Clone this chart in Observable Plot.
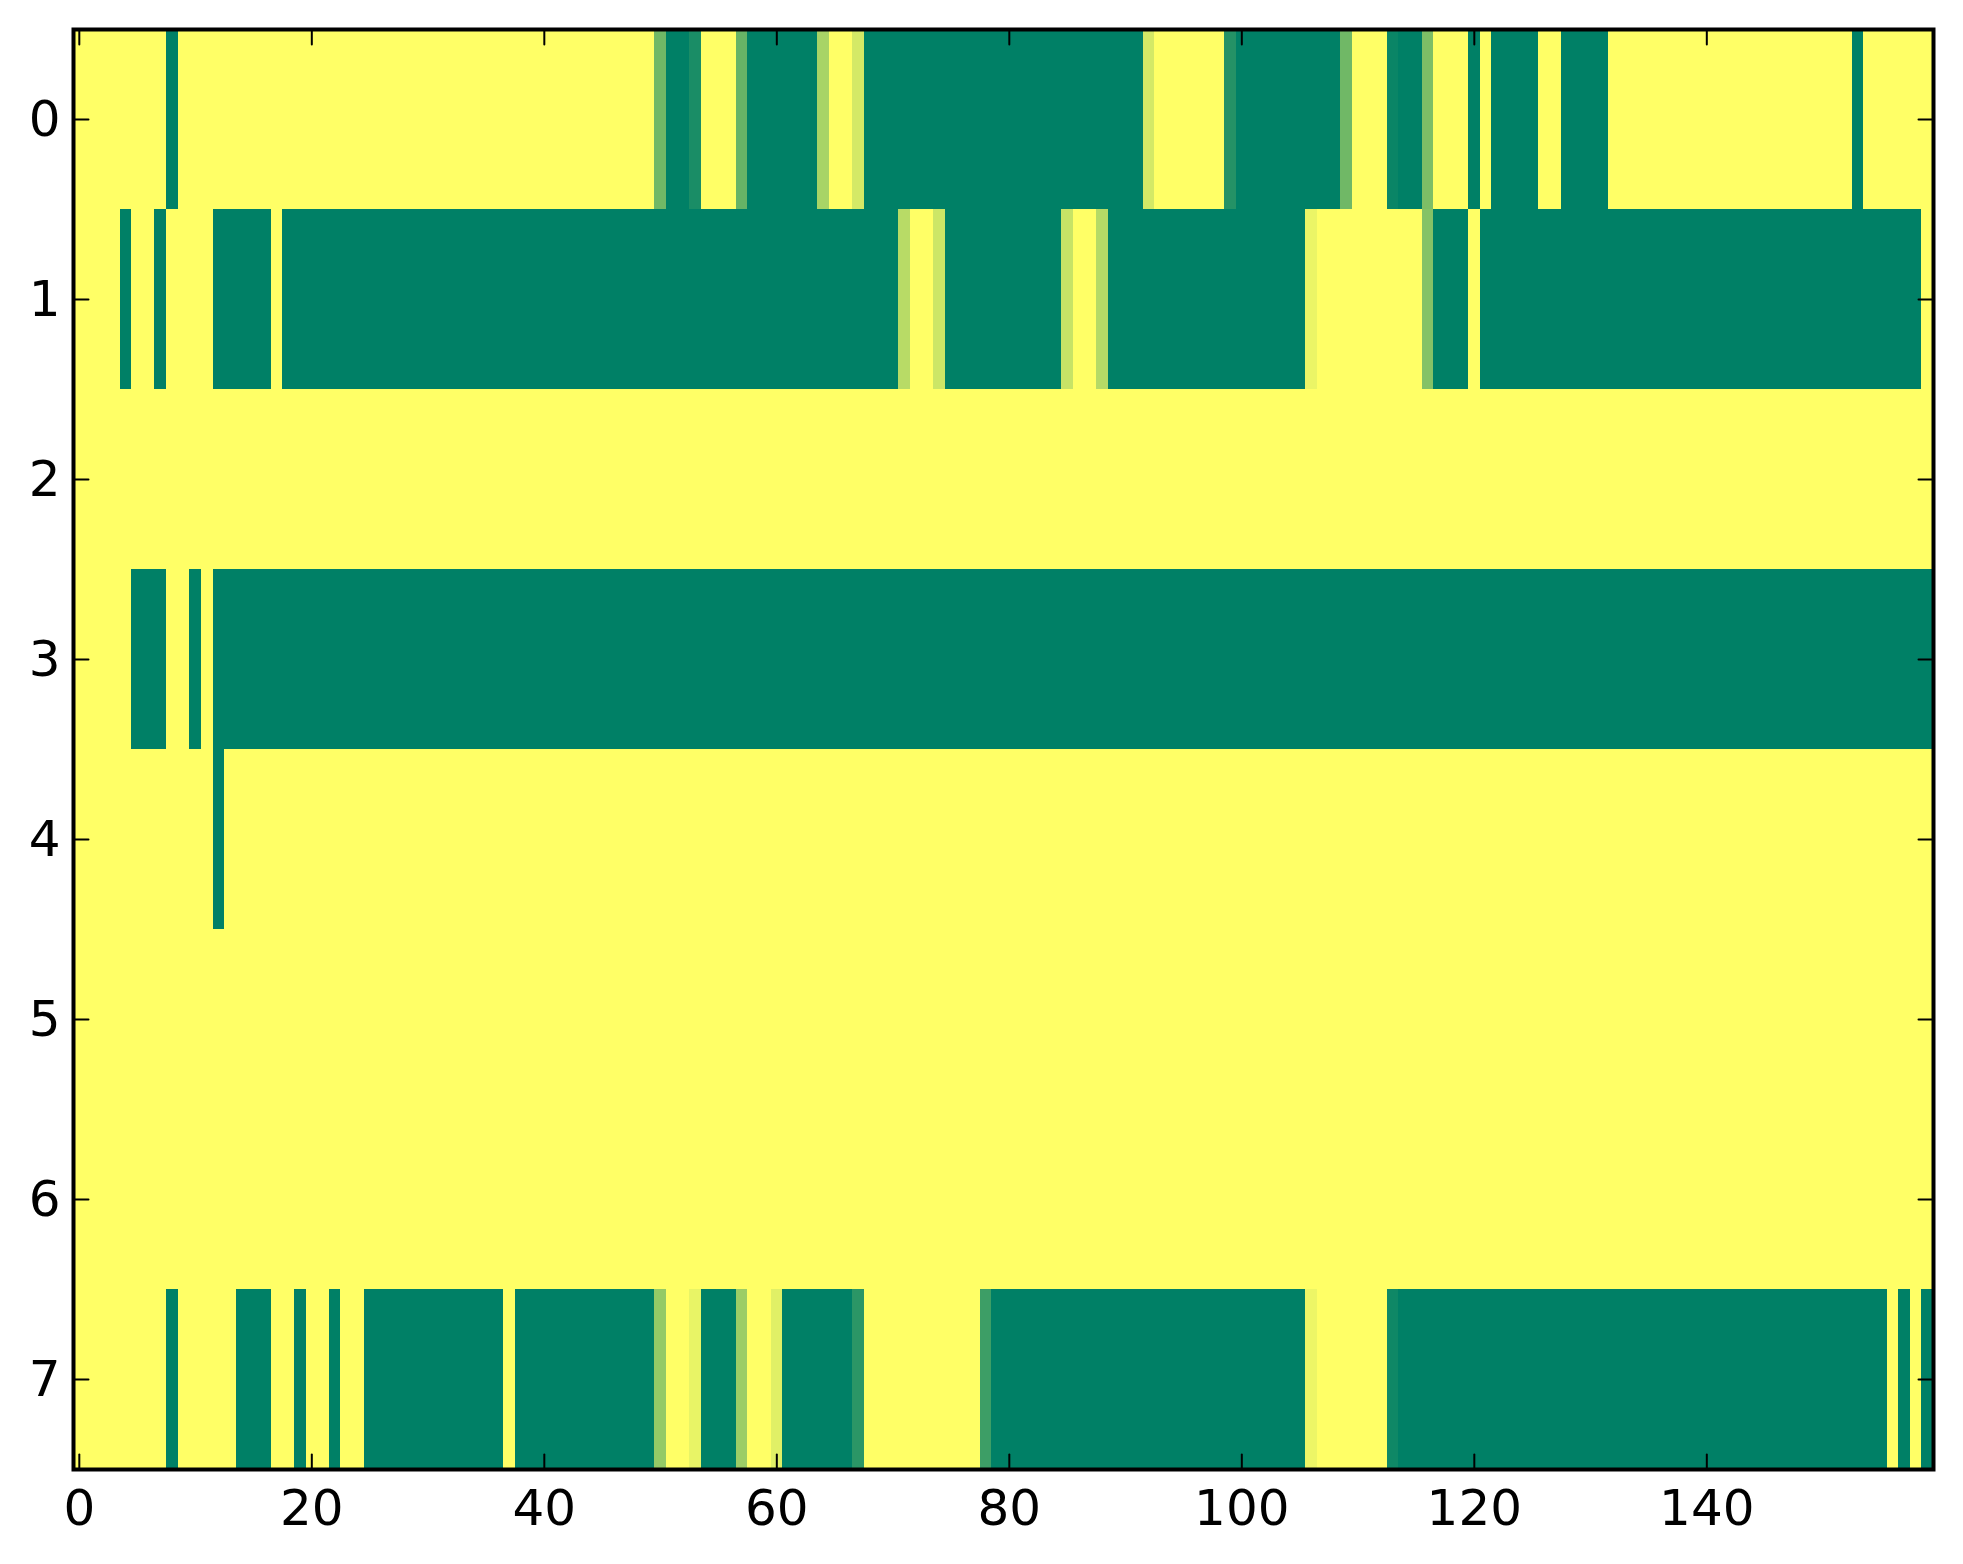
<!DOCTYPE html>
<html>
<head>
<meta charset="utf-8">
<script src="https://cdn.jsdelivr.net/npm/d3@7"></script>
<script src="https://cdn.jsdelivr.net/npm/@observablehq/plot@0.6"></script>
<style>
  html, body { margin: 0; padding: 0; background: #ffffff; color: #000000; }
  #chart svg { display: block; }
</style>
</head>
<body>
<div id="chart"></div>
<script>
// Column / row layout of the image
const nCols = 160;
const rowIds = [0, 1, 2, 3, 4, 5, 6, 7];

// Tick labels
const xTicks = [0, 20, 40, 60, 80, 100, 120, 140];
const yTicks = [0, 1, 2, 3, 4, 5, 6, 7];

// Each row as runs: [firstColumn, lastColumn, value]  (0 = green, 1 = yellow)
const row0 = [[0,7,1],[8,8,0],[9,49,1],[50,50,0.44],[51,52,0],[53,53,0.10],[54,56,1],[57,57,0.40],[58,63,0],[64,64,0.66],[65,66,1],[67,67,0.83],[68,91,0],[92,92,0.83],[93,98,1],[99,99,0.14],[100,108,0],[109,109,0.44],[110,112,1],[113,113,0.04],[114,115,0],[116,116,0.49],[117,119,1],[120,120,0],[121,121,1],[122,125,0],[126,127,1],[128,131,0],[132,152,1],[153,153,0],[154,159,1]];
const row1 = [[0,3,1],[4,4,0],[5,6,1],[7,7,0],[8,11,1],[12,16,0],[17,17,1],[18,70,0],[71,71,0.72],[72,73,1],[74,74,0.80],[75,84,0],[85,85,0.78],[86,87,1],[88,88,0.71],[89,105,0],[106,106,0.92],[107,115,1],[116,116,0.52],[117,119,0],[120,120,1],[121,158,0],[159,159,1]];
const row2 = [[0,159,1]];
const row3 = [[0,4,1],[5,7,0],[8,9,1],[10,10,0],[11,11,1],[12,159,0]];
const row4 = [[0,11,1],[12,12,0],[13,159,1]];
const row5 = [[0,159,1]];
const row6 = [[0,159,1]];
const row7 = [[0,7,1],[8,8,0],[9,13,1],[14,16,0],[17,18,1],[19,19,0],[20,21,1],[22,22,0],[23,24,1],[25,36,0],[37,37,1],[38,49,0],[50,50,0.58],[51,52,1],[53,53,0.91],[54,56,0],[57,57,0.61],[58,59,1],[60,60,0.88],[61,66,0],[67,67,0.17],[68,77,1],[78,78,0.24],[79,105,0],[106,106,0.93],[107,112,1],[113,113,0.06],[114,155,0],[156,156,1],[157,157,0],[158,158,1],[159,159,0]];

const rows = [row0, row1, row2, row3, row4, row5, row6, row7];

// Expand runs into one cell per column
const cells = [];
rows.forEach((runs, r) => {
  runs.forEach(([a, b, v]) => {
    for (let c = a; c <= b; c++) cells.push({row: rowIds[r], col: c, v});
  });
});

const xExtent = [-0.5, nCols - 0.5];
const yExtent = [-0.5, rowIds.length - 0.5];

const tickLen = 15;
const shapeUp = {draw(ctx, l) { ctx.moveTo(0, 0); ctx.lineTo(0, -l); }};
const shapeDown = {draw(ctx, l) { ctx.moveTo(0, 0); ctx.lineTo(0, l); }};
const shapeRight = {draw(ctx, l) { ctx.moveTo(0, 0); ctx.lineTo(l, 0); }};
const shapeLeft = {draw(ctx, l) { ctx.moveTo(0, 0); ctx.lineTo(-l, 0); }};
const tickStyle = {length: tickLen, anchor: "start", stroke: "black", strokeWidth: 2};

const chart = Plot.plot({
  width: 1963,
  height: 1564,
  marginLeft: 73,
  marginRight: 30,
  marginTop: 29,
  marginBottom: 95,
  style: {fontFamily: "DejaVu Sans", fontSize: "50px", background: "#ffffff", color: "#000000"},
  x: {type: "linear", domain: xExtent},
  y: {type: "linear", domain: yExtent, reverse: true},
  color: {type: "linear", domain: [0, 1], range: ["rgb(0,128,102)", "rgb(255,255,102)"], interpolate: "rgb"},
  marks: [
    Plot.rect(cells, {
      x1: d => d.col - 0.5, x2: d => d.col + 0.5,
      y1: d => d.row - 0.5, y2: d => d.row + 0.5,
      fill: "v", shapeRendering: "crispEdges"
    }),
    Plot.vector(xTicks, {x: d => d, y: () => yExtent[1], shape: shapeUp, ...tickStyle}),
    Plot.vector(xTicks, {x: d => d, y: () => yExtent[0], shape: shapeDown, ...tickStyle}),
    Plot.vector(yTicks, {y: d => d, x: () => xExtent[0], shape: shapeRight, ...tickStyle}),
    Plot.vector(yTicks, {y: d => d, x: () => xExtent[1], shape: shapeLeft, ...tickStyle}),
    Plot.frame({stroke: "black", strokeWidth: 4}),
    Plot.axisX(xTicks, {anchor: "bottom", tickSize: 0, tickPadding: 20, label: null, fontSize: 50, fontFamily: "DejaVu Sans", tickFormat: d => String(d)}),
    Plot.axisY(yTicks, {anchor: "left", tickSize: 0, tickPadding: 13, label: null, fontSize: 50, fontFamily: "DejaVu Sans", tickFormat: d => String(d)})
  ]
});

document.getElementById("chart").appendChild(chart);
</script>
</body>
</html>
